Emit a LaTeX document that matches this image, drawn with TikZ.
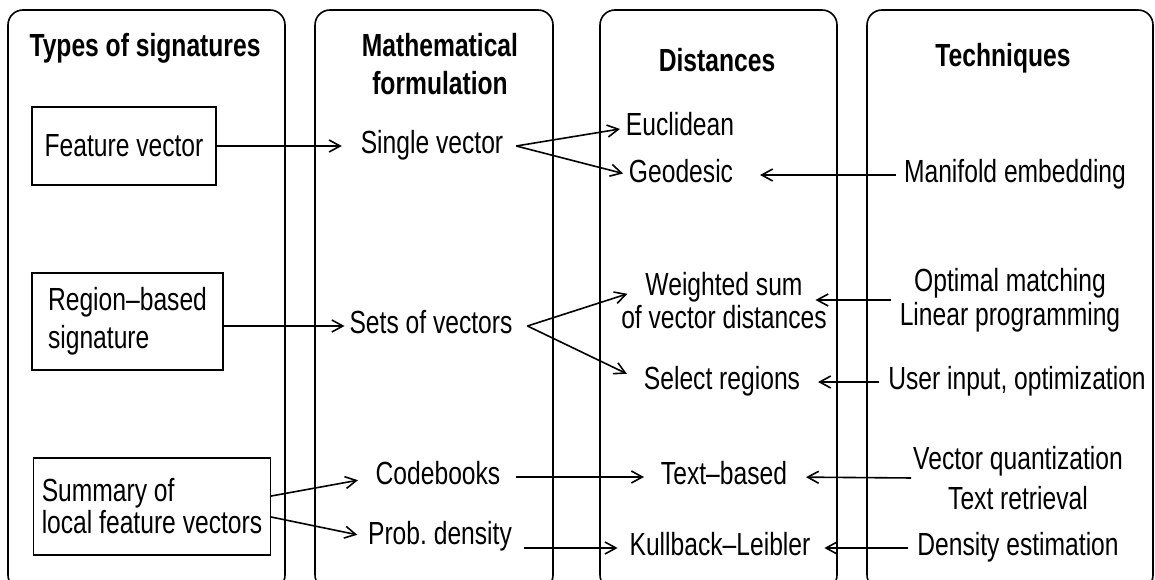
\documentclass[tikz,border=0pt]{standalone}
\usepackage{fontspec}
\setmainfont{Liberation Sans}[FakeStretch=0.77]
\usetikzlibrary{arrows.meta,calc}

\begin{document}
\begin{tikzpicture}[x=1pt,y=-1pt,
  font=\fontsize{32}{38}\selectfont,
  panel/.style={draw,line width=1.6pt,rounded corners=15pt},
  sigbox/.style={draw,line width=1.6pt,inner sep=0pt,outer sep=0pt},
  lbl/.style={inner sep=0pt,outer sep=0pt,text height=22pt,text depth=7pt},
  multi/.style={inner sep=0pt,outer sep=0pt,align=center},
  head/.style={font=\fontsize{32}{38}\selectfont\bfseries,inner sep=0pt,align=center},
  arr/.style={line width=1.6pt,-{Straight Barb[length=11pt,width=12pt]}}
]

\useasboundingbox (0,0) rectangle (1155,580);
\clip (0,0) rectangle (1155,580);

% four columns
\draw[panel] (8,10) rectangle (285,590);
\draw[panel] (315,10) rectangle (553,590);
\draw[panel] (600,10) rectangle (837,590);
\draw[panel] (867,10) rectangle (1153,590);

% column headings
\node[head] (t1) at (145,48) {Types of signatures};
\node[head] (t2) at (440,64) {Mathematical\\[0pt]formulation};
\node[head] (t3) at (717,60) {Distances};
\node[head] (t4) at (1003,58) {Techniques};

% signature types
\node[sigbox,minimum width=184pt,minimum height=78pt] (b1) at (124,146) {Feature vector};
\node[sigbox,minimum width=191pt,minimum height=97pt,align=left] (b2) at (127.5,321.5) {Region–based\\signature};
\node[sigbox,minimum width=237pt,minimum height=97pt,align=left] (b3) at (152,506.5) {Summary of\\[-6pt]local feature vectors};

% formulations
\node[lbl] (sv) at (432,146) {Single vector};
\node[lbl] (sov) at (431,326) {Sets of vectors};
\node[lbl] (cb) at (438,477) {Codebooks};
\node[lbl] (pd) at (440,537) {Prob.\ density};

% distances
\node[lbl] (eu) at (680,128) {Euclidean};
\node[lbl] (geo) at (681,175) {Geodesic};
\node[lbl] (ws) at (724,288) {Weighted sum};
\node[lbl] (wsb) at (724,321) {of vector distances};
\node[lbl] (sr) at (722,382) {Select regions};
\node[lbl] (tb) at (724,477) {Text–based};
\node[lbl] (kl) at (720,548) {Kullback–Leibler};

% techniques
\node[lbl] (me) at (1015,175) {Manifold embedding};
\node[multi] (om) at (1010,300) {Optimal matching\\[-4pt]Linear programming};
\node[lbl] (ui) at (1017,382) {User input, optimization};
\node[multi] (vq) at (1018,478) {Vector quantization\\[2pt]Text retrieval};
\node[lbl] (de) at (1018,548) {Density estimation};

% branching points
\coordinate (svj) at ([xshift=13pt]sv.east);
\coordinate (sovj) at ([xshift=15pt]sov.east);

% connectors
\draw[arr,shorten >=19pt] (b1.east |- sv.west) -- (sv.west);
\draw[arr,shorten >=6pt] (svj) -- (eu.west);
\draw[arr,shorten >=6pt] (svj) -- (geo.west);
\draw[arr,shorten >=5pt] (b2.east |- sov.west) -- (sov.west);
\draw[arr,shorten >=19pt] (sovj) -- (ws.west);
\draw[arr,shorten >=19pt] (sovj) -- (sr.west);
\draw[arr,shorten <=9pt,shorten >=13pt] (om.west) -- (om.west -| ws.east);
\draw[arr,shorten <=9pt,shorten >=18pt] (ui.west) -- (sr.east);
\draw[arr,shorten <=8pt,shorten >=27pt] (me.west) -- (geo.east);
\draw[arr,shorten >=18pt] (b3.5) -- (cb.west);
\draw[arr,shorten >=11pt] (b3.-5) -- (pd.west);
\draw[arr,shorten <=16pt,shorten >=17pt] (cb.east) -- (tb.west);
\draw[arr,shorten <=12pt,shorten >=12pt] (pd.east |- kl.west) -- (kl.west);
\draw[arr,shorten <=2pt,shorten >=19pt] (vq.west) -- (tb.east);
\draw[arr,shorten <=9pt,shorten >=14pt] (de.west) -- (kl.east);
\end{tikzpicture}
\end{document}
